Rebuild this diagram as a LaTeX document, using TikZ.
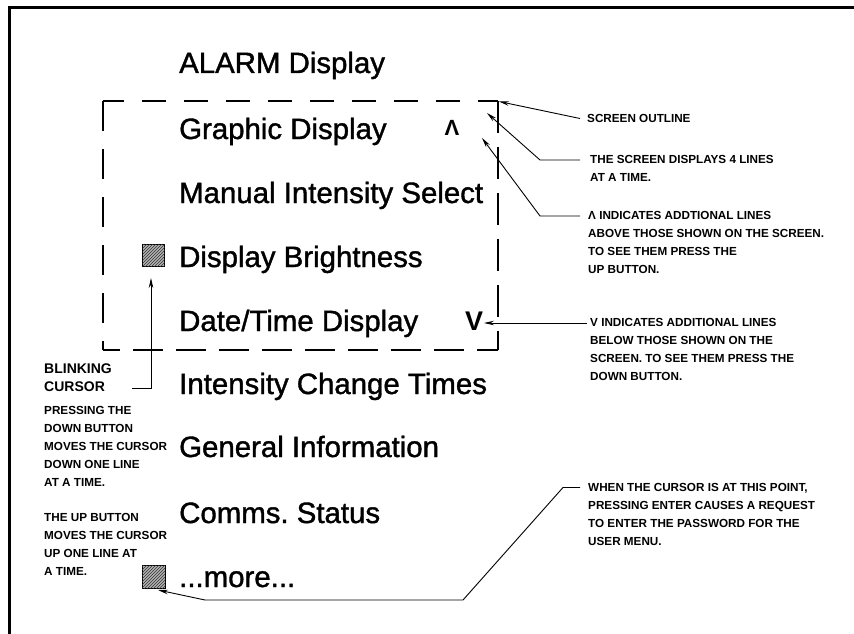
\documentclass[tikz,border=0pt]{standalone}
\usepackage{fontspec}
\setmainfont{Liberation Sans}
\newfontfamily\menufont[FakeBold=1.3]{Liberation Sans}
\usetikzlibrary{arrows.meta,patterns}
\begin{document}
\frenchspacing
\begin{tikzpicture}[x=1pt,y=-1pt,
  menu/.style={anchor=base west,inner sep=0pt,font=\menufont\fontsize{29.4}{29.4}\selectfont},
  note/.style={anchor=north west,inner sep=0pt,align=left,font=\bfseries\fontsize{11.7}{18}\selectfont},
  bignote/.style={anchor=north west,inner sep=0pt,align=left,font=\bfseries\fontsize{14}{18}\selectfont},
  mark glyph/.style={inner sep=0pt,font=\bfseries\fontsize{#1}{#1}\selectfont},
  leader/.style={line width=0.9pt,-{Stealth[length=10pt,width=4.5pt]}},
  cursorbox/.style={draw,line width=0.9pt,fill=gray!60,minimum size=#1,inner sep=0pt,
    postaction={pattern=north east lines,pattern color=black!80}},
  scr/.style={line width=1.2pt}
]
\useasboundingbox (0,0) rectangle (854,634);
% frame
\draw[line width=3pt] (856,8) -- (9.5,8) -- (9.5,636);
% screen outline
\draw[scr,dash pattern=on 23.5pt off 18.5pt,dash phase=3pt] (103,101) -- (498,101);
\draw[scr,dash pattern=on 32pt off 14pt] (498,101) -- (498,350);
\draw[scr,dash pattern=on 30pt off 13pt,dash phase=9pt] (498,350) -- (103,350);
\draw[scr,dash pattern=on 30pt off 18pt] (103,101) -- (103,350);
% menu
\node[menu] (m1) at (179,73) {ALARM Display};
\node[menu] (m2) at (179,139) {Graphic Display};
\node[menu] (m3) at (179,203) {Manual Intensity Select};
\node[menu] (m4) at (179,267) {Display Brightness};
\node[menu] (m5) at (179,331) {Date/Time Display};
\node[menu] (m6) at (179,394) {Intensity Change Times};
\node[menu] (m7) at (179,457) {General Information};
\node[menu] (m8) at (179,523) {Comms. Status};
\node[menu] (m9) at (179,587) {...more...};
\node[mark glyph=22] (up) at (452,128) {Λ};
\node[mark glyph=27] (dn) at (474,321.5) {V};
% cursors
\node[cursorbox=22pt] (c1) at (153.5,255) {};
\node[cursorbox=23pt] (c2) at (153.5,576.5) {};
% notes
\node[note] (n1) at (587,114.6) {SCREEN OUTLINE};
\node[note] (n2) at (590,155.6) {THE SCREEN DISPLAYS 4 LINES\\AT A TIME.};
\node[note] (n3) at (588,211.6) {Λ INDICATES ADDTIONAL LINES\\ABOVE THOSE SHOWN ON THE SCREEN.\\TO SEE THEM PRESS THE\\UP BUTTON.};
\node[note] (n4) at (590,318.6) {V INDICATES ADDITIONAL LINES\\BELOW THOSE SHOWN ON THE\\SCREEN. TO SEE THEM PRESS THE\\DOWN BUTTON.};
\node[note] (n5) at (588,483.6) {WHEN THE CURSOR IS AT THIS POINT,\\PRESSING ENTER CAUSES A REQUEST\\TO ENTER THE PASSWORD FOR THE\\USER MENU.};
\node[bignote] (n6) at (44,364) {BLINKING\\CURSOR};
\node[note] (n7) at (44,406.6) {PRESSING THE\\DOWN BUTTON\\MOVES THE CURSOR\\DOWN ONE LINE\\AT A TIME.};
\node[note] (n8) at (44,513.6) {THE UP BUTTON\\MOVES THE CURSOR\\UP ONE LINE AT\\A TIME.};
% leader coordinates
\coordinate (t1) at (499,101.5);
\coordinate (t2) at (487,113);
\coordinate (t3) at (482,138);
\coordinate (t4) at (484,323);
\coordinate (t5) at (158,590);
\coordinate (t6) at (151,278);
\draw[leader] (580,118.5) -- (t1);
\draw[leader] (580,160) -- (540,160) -- (t2);
\draw[leader] (580,216) -- (540,216) -- (t3);
\draw[leader] (587,323) -- (t4);
\draw[leader] (580,487.5) -- (563,487.5) -- (463,600) -- (205,600) -- (t5);
\draw[leader] (132,388) -- (151,388) -- (t6);
\end{tikzpicture}
\end{document}
